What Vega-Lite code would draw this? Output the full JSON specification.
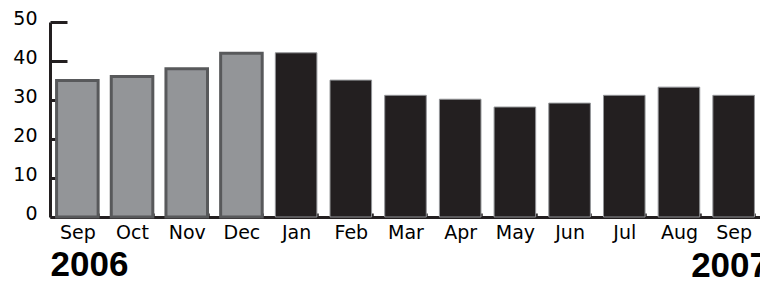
{
  "$schema": "https://vega.github.io/schema/vega-lite/v6.json",
  "autosize": "none",
  "width": 711,
  "height": 195,
  "padding": {"left": 50, "top": 22, "right": 0, "bottom": 65},
  "background": "white",
  "config": {"view": {"stroke": null}},
  "data": {
    "values": [
      {"period": "Sep 2006", "year": "2006", "value": 35},
      {"period": "Oct 2006", "year": "2006", "value": 36},
      {"period": "Nov 2006", "year": "2006", "value": 38},
      {"period": "Dec 2006", "year": "2006", "value": 42},
      {"period": "Jan 2007", "year": "2007", "value": 42.1},
      {"period": "Feb 2007", "year": "2007", "value": 35.1},
      {"period": "Mar 2007", "year": "2007", "value": 31.2},
      {"period": "Apr 2007", "year": "2007", "value": 30.2},
      {"period": "May 2007", "year": "2007", "value": 28.2},
      {"period": "Jun 2007", "year": "2007", "value": 29.2},
      {"period": "Jul 2007", "year": "2007", "value": 31.2},
      {"period": "Aug 2007", "year": "2007", "value": 33.3},
      {"period": "Sep 2007", "year": "2007", "value": 31.2}
    ]
  },
  "title": {
    "text": "2007",
    "orient": "bottom",
    "anchor": "end",
    "frame": "group",
    "align": "right",
    "baseline": "alphabetic",
    "font": "Liberation Sans",
    "fontSize": 35,
    "fontWeight": "bold",
    "color": "black",
    "dx": 8,
    "dy": -9
  },
  "mark": {"type": "bar"},
  "encoding": {
    "x": {
      "field": "period",
      "type": "ordinal",
      "sort": null,
      "scale": {"paddingInner": 0.24, "paddingOuter": 0.12},
      "axis": {
        "labelExpr": "isString(datum.value) ? split(datum.value, ' ')[0] : ''",
        "labelAngle": 0,
        "labelFont": "DejaVu Sans",
        "labelFontSize": 19,
        "labelColor": "black",
        "labelPadding": 10,
        "tickBand": "extent",
        "tickSize": -4,
        "tickWidth": 2.5,
        "tickColor": "#231f20",
        "domainWidth": 3,
        "domainColor": "#231f20",
        "title": "2006",
        "titleFont": "Liberation Sans",
        "titleFontSize": 35,
        "titleFontWeight": "bold",
        "titleColor": "black",
        "titleAnchor": "start",
        "titleAlign": "left",
        "titleBaseline": "alphabetic",
        "titleX": 0,
        "titleY": 58
      }
    },
    "y": {
      "field": "value",
      "type": "quantitative",
      "scale": {"domain": [0, 50]},
      "axis": {
        "values": [0, 10, 20, 30, 40, 50],
        "grid": false,
        "title": null,
        "labelFont": "DejaVu Sans",
        "labelFontSize": 19,
        "labelColor": "black",
        "labelBaseline": "alphabetic",
        "labelOffset": 2,
        "labelPadding": 30,
        "tickSize": -17,
        "tickWidth": 3,
        "tickColor": "#231f20",
        "domainWidth": 3,
        "domainColor": "#231f20"
      }
    },
    "fill": {
      "field": "year",
      "type": "nominal",
      "scale": {"domain": ["2006", "2007"], "range": ["#939598", "#231f20"]},
      "legend": null
    },
    "stroke": {
      "field": "year",
      "type": "nominal",
      "scale": {"domain": ["2006", "2007"], "range": ["#58595b", "#939598"]},
      "legend": null
    },
    "strokeWidth": {
      "field": "year",
      "type": "nominal",
      "scale": {"domain": ["2006", "2007"], "range": [3, 1]},
      "legend": null
    }
  }
}
